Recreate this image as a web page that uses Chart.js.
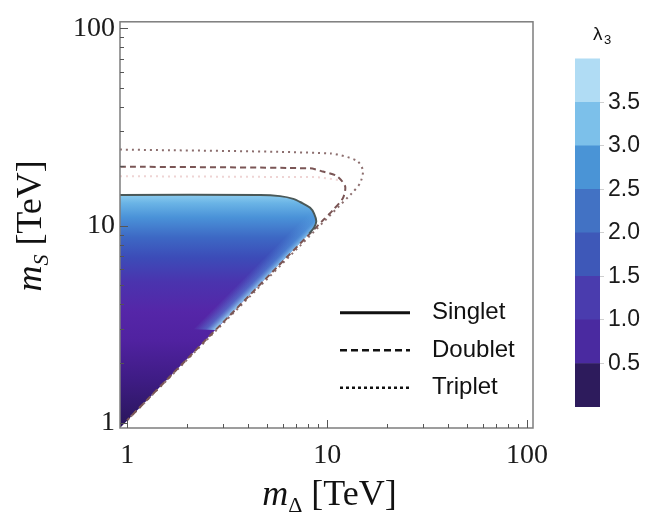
<!DOCTYPE html>
<html>
<head>
<meta charset="utf-8">
<script src="https://cdn.jsdelivr.net/npm/chart.js@4.4.1/dist/chart.umd.min.js"></script>
<style>
  html, body { margin: 0; padding: 0; background: #fff; }
  #wrap { position: relative; width: 656px; height: 522px; }
  #main { position: absolute; left: 0; top: 0; }
  #bar { position: absolute; left: 560px; top: 0; }
</style>
</head>
<body>
<div id="wrap">
  <canvas id="main" width="656" height="522"></canvas>
  <canvas id="bar" width="96" height="522"></canvas>
</div>
<script>
// axis ticks (log scale, TeV)
const axisTicks = [1, 2, 3, 4, 5, 6, 7, 8, 9, 10, 20, 30, 40, 50, 60, 70, 80, 90, 100];
const majorTicks = [1, 10, 100];

// allowed region for the singlet (filled with lambda_3)
const regionX = [0.92, 8.13, 8.6, 8.82, 8.6, 8.22, 7.5, 6.77, 5.81, 4.62, 0.92];
const regionY = [0.94, 9.1, 9.77, 10.5, 11.5, 12.3, 13.0, 13.66, 14.1, 14.3, 14.3];

// lighter strip of lambda_3 along the m_S ~ m_Delta edge
const bandX = [2.75, 8.13, 8.6, 8.82, 8.6, 8.22, 6.0, 1.9];
const bandY = [2.95, 9.1, 9.77, 10.5, 11.5, 12.3, 10.5, 3.0];

// contours
const singletX = [0.92, 4.62, 5.81, 6.77, 7.5, 8.22, 8.6, 8.82, 8.6, 8.13];
const singletY = [14.3, 14.3, 14.1, 13.66, 13.0, 12.3, 11.5, 10.5, 9.77, 9.1];
const doubletX = [0.92, 8.2, 9.5, 11.2, 12.3, 12.0, 10.7, 9.5, 1.0];
const doubletY = [19.9, 19.5, 18.8, 17.8, 15.8, 13.8, 12.0, 10.6, 1.03];
const tripletX = [0.92, 10.4, 14.1, 15.1, 14.6, 13.3, 1.0];
const tripletY = [24.3, 23.2, 21.3, 19.0, 16.4, 14.6, 1.03];
const paleX = [0.92, 9.0, 11.5];
const paleY = [17.8, 17.6, 17.0];

// lambda_3 colour along m_S
const heatMS = [0.94, 1.03, 1.64, 2.6, 3.67, 5.2, 6.9, 8.7, 11.0, 13.0, 14.3];
const heatColors = ['#2a165c', '#2c1760', '#3e1c84', '#5022a0', '#5526a8', '#4a34ae',
                    '#3c4cb8', '#3d68c4', '#4a92d8', '#6ab4e6', '#8ccbee'];

// colour bar
const cbBands = [0.5, 0.5, 0.5, 0.5, 0.5, 0.5, 0.5, 0.5];
const cbColors = ['#2d1b5c', '#4a2aa0', '#4a3cae', '#3e58b8', '#4272c4', '#4a94d6', '#7cc0ea', '#b0dcf4'];
const cbTicks = [0.5, 1.0, 1.5, 2.0, 2.5, 3.0, 3.5];

const legendLabels = ['Singlet', 'Doublet', 'Triplet'];

const pts = (xs, ys) => xs.map((x, i) => ({ x: x, y: ys[i] }));

function heatFill(ctx) {
  const chart = ctx.chart;
  if (!chart.chartArea) return heatColors[0];
  const y = chart.scales.y;
  const p0 = y.getPixelForValue(heatMS[0]);
  const p1 = y.getPixelForValue(heatMS[heatMS.length - 1]);
  const g = chart.ctx.createLinearGradient(0, p0, 0, p1);
  heatMS.forEach((v, i) => g.addColorStop((y.getPixelForValue(v) - p0) / (p1 - p0), heatColors[i]));
  return g;
}

function bandFill(ctx) {
  const chart = ctx.chart;
  if (!chart.chartArea) return 'rgba(0,0,0,0)';
  const xs = chart.scales.x, ys = chart.scales.y;
  // edge is close to a 45 degree line in pixels, so x+y is constant on it
  const s = (xs.getPixelForValue(bandX[0]) + ys.getPixelForValue(bandY[0]) +
             xs.getPixelForValue(bandX[1]) + ys.getPixelForValue(bandY[1])) / 2;
  const w = 22;
  const g = chart.ctx.createLinearGradient((s - w) / 2, (s - w) / 2, s / 2, s / 2);
  g.addColorStop(0, 'rgba(90,160,225,0)');
  g.addColorStop(0.6, 'rgba(90,165,228,0.45)');
  g.addColorStop(1, 'rgba(150,212,242,0.9)');
  return g;
}

const noLine = 'rgba(0,0,0,0)';

const frameTicks = {
  id: 'frameTicks',
  afterDatasetsDraw(chart) {
    const { ctx, chartArea: a, scales: { x, y } } = chart;
    ctx.save();
    ctx.strokeStyle = '#7d7d7d';
    ctx.lineWidth = 1.5;
    ctx.strokeRect(a.left, a.top, a.width, a.height);
    ctx.strokeStyle = '#555';
    ctx.lineWidth = 1;
    ctx.beginPath();
    x.ticks.forEach(t => {
      const px = Math.round(x.getPixelForValue(t.value)) + 0.5;
      const len = majorTicks.includes(t.value) ? 8 : 4;
      ctx.moveTo(px, a.bottom); ctx.lineTo(px, a.bottom - len);
    });
    y.ticks.forEach(t => {
      const py = Math.round(y.getPixelForValue(t.value)) + 0.5;
      const len = majorTicks.includes(t.value) ? 8 : 4;
      ctx.moveTo(a.left, py); ctx.lineTo(a.left + len, py);
    });
    ctx.stroke();
    ctx.restore();
  }
};

const legendBox = {
  id: 'legendBox',
  afterDraw(chart) {
    const { ctx, chartArea: a } = chart;
    const dashes = [[], [7, 4], [3, 3]];
    ctx.save();
    legendLabels.forEach((lab, i) => {
      const yy = a.top + 291 + i * 37.5;
      ctx.beginPath();
      ctx.setLineDash(dashes[i]);
      ctx.lineWidth = i === 0 ? 3 : 2.5;
      ctx.strokeStyle = '#111';
      ctx.moveTo(a.left + 220, yy);
      ctx.lineTo(a.left + 290, yy);
      ctx.stroke();
      ctx.setLineDash([]);
      ctx.fillStyle = '#111';
      ctx.font = '24px "Liberation Sans", Arial, sans-serif';
      ctx.textBaseline = 'middle';
      ctx.fillText(lab, a.left + 312, yy);
    });
    ctx.restore();
  }
};

function drawParts(ctx, parts, x0, y0) {
  let w = 0;
  parts.forEach(p => { ctx.font = p.font; w += ctx.measureText(p.text).width; });
  let x = x0 - w / 2;
  parts.forEach(p => {
    ctx.font = p.font;
    ctx.fillText(p.text, x, y0 + (p.dy || 0));
    x += ctx.measureText(p.text).width;
  });
}

const axisTitles = {
  id: 'axisTitles',
  afterDraw(chart) {
    const { ctx, chartArea: a } = chart;
    const serif = '"Liberation Serif", "Times New Roman", serif';
    ctx.save();
    ctx.fillStyle = '#111';
    ctx.textBaseline = 'alphabetic';
    drawParts(ctx, [
      { text: 'm', font: 'italic 36px ' + serif },
      { text: 'Δ', font: '22px ' + serif, dy: 7 },
      { text: ' [TeV]', font: '36px ' + serif }
    ], (a.left + a.right) / 2 + 3, 505);
    ctx.translate(41, (a.top + a.bottom) / 2 + 1);
    ctx.rotate(-Math.PI / 2);
    drawParts(ctx, [
      { text: 'm', font: 'italic 36px ' + serif },
      { text: 'S', font: 'italic 22px ' + serif, dy: 7 },
      { text: ' [TeV]', font: '36px ' + serif }
    ], 0, 0);
    ctx.restore();
  }
};

const tickFont = { family: '"Liberation Serif", "Times New Roman", serif', size: 28 };
const setTicks = scale => { scale.ticks = axisTicks.map(v => ({ value: v, major: majorTicks.includes(v) })); };
const tickLabel = v => (majorTicks.includes(v) ? String(v) : '');

new Chart(document.getElementById('main'), {
  type: 'line',
  data: {
    datasets: [
      { data: pts(regionX, regionY), fill: 'shape', backgroundColor: heatFill, borderColor: noLine,
        borderWidth: 0, pointRadius: 0, order: 5 },
      { data: pts(bandX, bandY), fill: 'shape', backgroundColor: bandFill, borderColor: noLine,
        borderWidth: 0, pointRadius: 0, order: 4 },
      { data: pts(paleX, paleY), borderColor: 'rgba(220,160,160,0.45)', borderWidth: 2,
        borderDash: [2, 4], pointRadius: 0, fill: false, order: 3 },
      { label: 'Triplet', data: pts(tripletX, tripletY), borderColor: '#8c6e6e', borderWidth: 2,
        borderDash: [2, 4], pointRadius: 0, fill: false, tension: 0.25, order: 2 },
      { label: 'Doublet', data: pts(doubletX, doubletY), borderColor: '#7a5555', borderWidth: 2,
        borderDash: [6, 4], pointRadius: 0, fill: false, tension: 0.25, order: 1 },
      { label: 'Singlet', data: pts(singletX, singletY), borderColor: '#4a5858', borderWidth: 2,
        pointRadius: 0, fill: false, tension: 0.3, order: 0 }
    ]
  },
  options: {
    responsive: false,
    animation: false,
    layout: { padding: { left: 0, top: 16, right: 123, bottom: 0 } },
    scales: {
      x: {
        type: 'logarithmic', min: 0.92, max: 107,
        afterBuildTicks: setTicks,
        afterFit: s => { s.height = 94; },
        ticks: { callback: tickLabel, autoSkip: false, maxRotation: 0, font: tickFont, color: '#1a1a1a', padding: 11 },
        grid: { display: false, drawTicks: false },
        border: { display: false }
      },
      y: {
        type: 'logarithmic', min: 0.94, max: 108,
        afterBuildTicks: setTicks,
        afterFit: s => { s.width = 120; },
        ticks: { callback: tickLabel, autoSkip: false, font: tickFont, color: '#1a1a1a', padding: 5 },
        grid: { display: false, drawTicks: false },
        border: { display: false }
      }
    },
    plugins: { legend: { display: false }, tooltip: { enabled: false } }
  },
  plugins: [frameTicks, legendBox, axisTitles]
});

const cbTitle = {
  id: 'cbTitle',
  afterDraw(chart) {
    const ctx = chart.ctx;
    ctx.save();
    ctx.fillStyle = '#111';
    ctx.textBaseline = 'alphabetic';
    ctx.font = '19px "Liberation Sans", Arial, sans-serif';
    ctx.fillText('λ', 33, 40);
    ctx.font = '13px "Liberation Sans", Arial, sans-serif';
    ctx.fillText('3', 44, 44);
    ctx.restore();
  }
};

new Chart(document.getElementById('bar'), {
  type: 'bar',
  data: {
    labels: ['λ3'],
    datasets: cbBands.map((v, i) => ({
      data: [v], backgroundColor: cbColors[i], borderWidth: 0,
      barPercentage: 1, categoryPercentage: 1
    }))
  },
  options: {
    responsive: false,
    animation: false,
    layout: { padding: { left: 15, top: 57, right: 0, bottom: 115 } },
    scales: {
      x: { stacked: true, display: false },
      y: {
        stacked: true, position: 'right', min: 0, max: 4.02,
        afterBuildTicks: s => { s.ticks = cbTicks.map(v => ({ value: v })); },
        afterFit: s => { s.width = 56; },
        ticks: { callback: v => v.toFixed(1), font: { family: '"Liberation Sans", Arial, sans-serif', size: 23 },
                 color: '#1a1a1a', padding: 4 },
        grid: { drawOnChartArea: false, tickLength: 4, color: '#cfcfcf' },
        border: { display: false }
      }
    },
    plugins: { legend: { display: false }, tooltip: { enabled: false } }
  },
  plugins: [cbTitle]
});
</script>
</body>
</html>
